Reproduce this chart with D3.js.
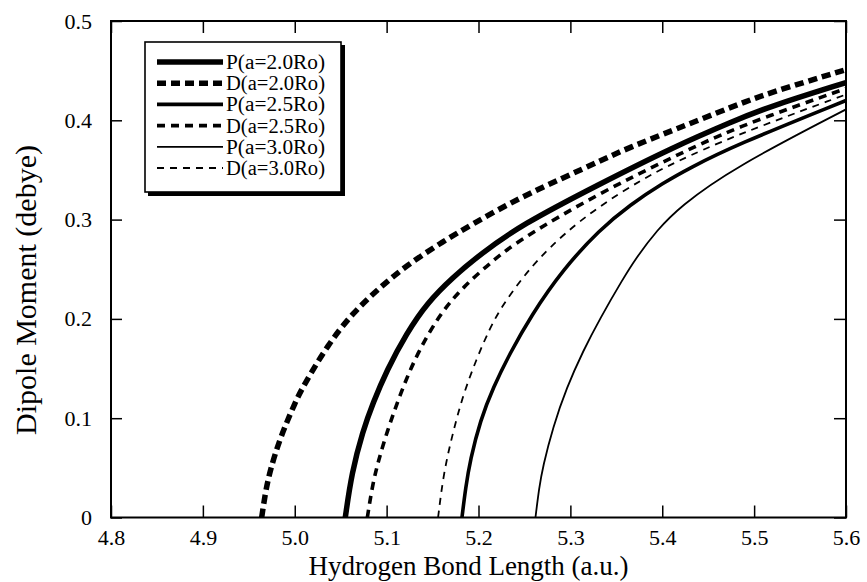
<!DOCTYPE html>
<html>
<head>
<meta charset="utf-8">
<script src="https://cdn.jsdelivr.net/npm/d3@7"></script>
<style>
  body { margin: 0; background: #fff; }
  svg { display: block; font-family: "Liberation Serif", "DejaVu Serif", serif; }
</style>
</head>
<body>
<svg id="chart" width="867" height="582"></svg>
<script>
// values
const xTicks = [4.8, 4.9, 5.0, 5.1, 5.2, 5.3, 5.4, 5.5, 5.6]
const xTickLabels = ["4.8", "4.9", "5.0", "5.1", "5.2", "5.3", "5.4", "5.5", "5.6"]
const yTicks = [0, 0.1, 0.2, 0.3, 0.4, 0.5]
const yTickLabels = ["0", "0.1", "0.2", "0.3", "0.4", "0.5"]

const seriesNames = ["P(a=2.0Ro)", "D(a=2.0Ro)", "P(a=2.5Ro)", "D(a=2.5Ro)", "P(a=3.0Ro)", "D(a=3.0Ro)"]

const p20 = [[5.055, 0], [5.062, 0.045], [5.074, 0.087], [5.085, 0.115], [5.100, 0.148], [5.122, 0.186],
  [5.144, 0.216], [5.172, 0.242], [5.202, 0.265], [5.245, 0.294], [5.332, 0.336], [5.412, 0.373],
  [5.477, 0.399], [5.514, 0.413], [5.6, 0.438]]
const d20 = [[4.964, 0], [4.968, 0.025], [4.973, 0.047], [4.984, 0.080], [5.0, 0.115], [5.009, 0.132],
  [5.036, 0.174], [5.063, 0.206], [5.093, 0.232], [5.122, 0.254], [5.158, 0.276], [5.194, 0.296],
  [5.245, 0.322], [5.292, 0.342], [5.332, 0.359], [5.365, 0.373], [5.412, 0.390], [5.477, 0.414],
  [5.514, 0.427], [5.6, 0.451]]
const p25 = [[5.182, 0], [5.186, 0.03], [5.191, 0.058], [5.202, 0.098], [5.216, 0.131], [5.234, 0.165],
  [5.257, 0.203], [5.292, 0.250], [5.332, 0.290], [5.365, 0.315], [5.401, 0.337], [5.43, 0.352],
  [5.477, 0.374], [5.6, 0.420]]
const d25 = [[5.079, 0], [5.085, 0.035], [5.092, 0.06], [5.100, 0.085], [5.115, 0.125], [5.133, 0.165],
  [5.158, 0.205], [5.183, 0.232], [5.216, 0.259], [5.245, 0.280], [5.332, 0.327], [5.412, 0.363],
  [5.477, 0.392], [5.6, 0.432]]
const p30 = [[5.262, 0], [5.266, 0.03], [5.270, 0.051], [5.281, 0.091], [5.296, 0.131], [5.314, 0.168],
  [5.332, 0.200], [5.357, 0.240], [5.372, 0.262], [5.394, 0.289], [5.419, 0.313], [5.477, 0.352],
  [5.6, 0.411]]
const d30 = [[5.156, 0], [5.162, 0.045], [5.172, 0.085], [5.183, 0.123], [5.198, 0.160], [5.212, 0.190],
  [5.225, 0.212], [5.245, 0.238], [5.264, 0.259], [5.292, 0.285], [5.332, 0.314], [5.379, 0.341],
  [5.412, 0.357], [5.477, 0.384], [5.6, 0.426]]

const seriesData = [p20, d20, p25, d25, p30, d30]

// line looks, same order as seriesNames
const lineStyles = [
  {width: 5.5, dash: null},
  {width: 5.5, dash: "9,5"},
  {width: 3.6, dash: null},
  {width: 3.6, dash: "8,6"},
  {width: 1.8, dash: null},
  {width: 1.8, dash: "7,6"}
]

const margins = {left: 111, top: 21, right: 21, bottom: 64.5}
const svg = d3.select("#chart")
const width = +svg.attr("width") - margins.left - margins.right
const height = +svg.attr("height") - margins.top - margins.bottom

const xScale = d3.scaleLinear().domain([4.8, 5.6]).range([0, width])
const yScale = d3.scaleLinear().domain([0, 0.5]).range([height, 0])

const g = svg.append("g")
  .attr("transform", `translate(${margins.left}, ${margins.top})`)

const line = d3.line()
  .x(d => xScale(d[0]))
  .y(d => yScale(d[1]))
  .curve(d3.curveBasis)

g.append("defs").append("clipPath").attr("id", "plot-clip")
  .append("rect").attr("width", width).attr("height", height + 3).attr("y", -3)

g.append("g")
  .attr("clip-path", "url(#plot-clip)")
  .selectAll("path")
  .data(seriesData)
  .enter()
  .append("path")
  .attr("d", d => line(d))
  .attr("fill", "none")
  .attr("stroke", "#000")
  .attr("stroke-width", (d, i) => lineStyles[i].width)
  .attr("stroke-dasharray", (d, i) => lineStyles[i].dash)
  .attr("stroke-linecap", "butt")

// axes: ticks point inward on all four sides
const xAxis = d3.axisBottom(xScale)
  .tickValues(xTicks)
  .tickFormat((d, i) => xTickLabels[i])
  .tickSize(-12)
  .tickPadding(12)
const yAxis = d3.axisLeft(yScale)
  .tickValues(yTicks)
  .tickFormat((d, i) => yTickLabels[i])
  .tickSize(-11)
  .tickPadding(19)

g.append("g").attr("class", "axis").attr("transform", `translate(0, ${height})`).call(xAxis)
g.append("g").attr("class", "axis").call(yAxis)
g.append("g").attr("class", "axis").call(d3.axisTop(xScale).tickValues(xTicks).tickFormat("").tickSize(-12))
g.append("g").attr("class", "axis").attr("transform", `translate(${width}, 0)`)
  .call(d3.axisRight(yScale).tickValues(yTicks).tickFormat("").tickSize(-12))

g.selectAll(".axis .domain").remove()
g.selectAll(".axis line").attr("stroke", "#000").attr("stroke-width", 1.5)
g.selectAll(".axis text")
  .attr("fill", "#000")
  .attr("font-family", "Liberation Serif, serif")
  .attr("font-size", 22)

g.append("rect")
  .attr("width", width)
  .attr("height", height)
  .attr("fill", "none")
  .attr("stroke", "#000")
  .attr("stroke-width", 2)

// axis titles
svg.append("text")
  .attr("x", margins.left + width / 2 - 10)
  .attr("y", 575)
  .attr("text-anchor", "middle")
  .attr("font-size", 27)
  .text("Hydrogen Bond Length (a.u.)")

svg.append("text")
  .attr("transform", `translate(36, 290) rotate(-90)`)
  .attr("text-anchor", "middle")
  .attr("font-size", 30)
  .text("Dipole Moment (debye)")

// legend box with drop shadow
const legend = svg.append("g").attr("transform", "translate(145, 42)")
legend.append("rect")
  .attr("x", 3).attr("y", 3).attr("width", 197).attr("height", 151)
  .attr("fill", "#000")
legend.append("rect")
  .attr("width", 196).attr("height", 150)
  .attr("fill", "#fff")
  .attr("stroke", "#000")
  .attr("stroke-width", 1.6)

const items = legend.selectAll("g.item")
  .data(seriesNames)
  .enter()
  .append("g")
  .attr("class", "item")
  .attr("transform", (d, i) => `translate(0, ${20 + i * 21.2})`)

items.append("line")
  .attr("x1", 12).attr("x2", 78)
  .attr("stroke", "#000")
  .attr("stroke-width", (d, i) => lineStyles[i].width)
  .attr("stroke-dasharray", (d, i) => lineStyles[i].dash)

items.append("text")
  .attr("x", 81)
  .attr("dy", "0.35em")
  .attr("font-size", 20)
  .attr("textLength", 99)
  .attr("lengthAdjust", "spacingAndGlyphs")
  .text(d => d)
</script>
</body>
</html>
